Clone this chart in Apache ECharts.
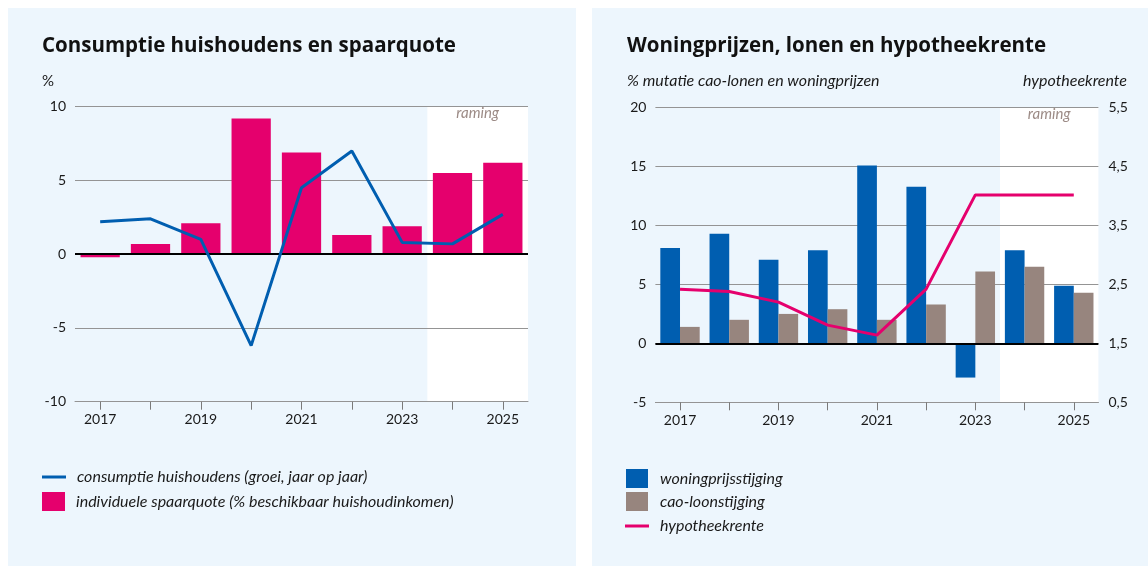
<!DOCTYPE html>
<html>
<head>
<meta charset="utf-8">
<script src="https://cdn.jsdelivr.net/npm/echarts@6/dist/echarts.min.js"></script>
<style>
  html, body { margin: 0; padding: 0; background: #fff; }
  .panel { position: absolute; background: #edf6fd; }
  #chart { position: absolute; left: 0; top: 0; width: 1148px; height: 568px; }
</style>
</head>
<body>
<div class="panel" style="left:8px;top:8px;width:568px;height:558px"></div>
<div class="panel" style="left:592px;top:8px;width:556px;height:558px"></div>
<div id="chart"></div>
<script>
// jaren op de x-as
const years = ['2017', '2018', '2019', '2020', '2021', '2022', '2023', '2024', '2025'];

// links: consumptie en spaarquote (%)
const spaarquote = [-0.2, 0.7, 2.1, 9.2, 6.9, 1.3, 1.9, 5.5, 6.2];
const consumptie = [2.2, 2.4, 1.0, -6.2, 4.5, 7.0, 0.8, 0.7, 2.7];

// rechts: woningprijzen, cao-lonen (% mutatie) en hypotheekrente
const woningprijs = [8.1, 9.3, 7.1, 7.9, 15.1, 13.3, -2.9, 7.9, 4.9];
const caoLoon = [1.4, 2.0, 2.5, 2.9, 2.0, 3.3, 6.1, 6.5, 4.3];
const hypotheekrente = [2.42, 2.38, 2.2, 1.81, 1.64, 2.42, 4.02, 4.02, 4.02];

// ramingsjaren: index 6.5 t/m 8.5 op de verborgen waarde-as
const ramingVan = 6.5;
const ramingTot = 8.5;

const BLUE = '#005eb0';
const PINK = '#e5006d';
const TAUPE = '#97857e';
const GRID = '#949494';
const TXT = '#1a1a1a';
const italic = { fontFamily: 'Lato', fontStyle: 'italic', fontSize: 16, color: TXT };

const chart = echarts.init(document.getElementById('chart'));

function catAxis(gridIndex) {
  return {
    type: 'category', gridIndex, data: years, z: 3,
    axisLine: { show: true, onZero: false, lineStyle: { color: GRID, width: 1 } },
    axisTick: { show: true, alignWithLabel: true, interval: 0, length: 8, inside: false,
      lineStyle: { color: '#7a7a7a', width: 1 } },
    axisLabel: { interval: 1, margin: 11, fontFamily: 'Lato', fontSize: 14, color: TXT },
    splitLine: { show: false }
  };
}
function hiddenX(gridIndex) {
  return { type: 'value', gridIndex, min: -0.5, max: 8.5, show: false };
}
function ramingSeries(xAxisIndex, yAxisIndex) {
  return {
    type: 'line', xAxisIndex, yAxisIndex, data: [], silent: true, z: 0,
    markArea: {
      silent: true, z: 0,
      itemStyle: { color: '#ffffff' },
      label: { show: true, position: 'insideTop', distance: -1,
        fontFamily: 'Lato', fontStyle: 'italic', fontSize: 15, color: '#9c8b86' },
      data: [[{ name: 'raming', xAxis: ramingVan }, { xAxis: ramingTot }]]
    }
  };
}
const zeroLine = {
  silent: true, symbol: ['none', 'none'], label: { show: false },
  lineStyle: { color: '#000', width: 2, type: 'solid' },
  data: [{ yAxis: 0 }]
};
const titleFont = { fontFamily: 'Open Sans', fontWeight: 'bold', fontSize: 20.5, color: '#111' };

chart.setOption({
  animation: false,
  title: [
    { text: 'Consumptie huishoudens en spaarquote', left: 42, top: 36, padding: 0,
      textStyle: titleFont },
    { text: '%', left: 42, top: 74, padding: 0,
      textStyle: { fontFamily: 'Lato', fontWeight: 'normal', fontSize: 15, color: TXT } },
    { text: 'Woningprijzen, lonen en hypotheekrente', left: 627, top: 36, padding: 0,
      textStyle: titleFont },
    { text: '% mutatie cao-lonen en woningprijzen', left: 627, top: 73, padding: 0,
      textStyle: Object.assign({ fontWeight: 'normal' }, italic) },
    { text: 'hypotheekrente', right: 21, top: 73, padding: 0,
      textStyle: Object.assign({ fontWeight: 'normal' }, italic) }
  ],
  legend: [
    { left: 42, top: 469, padding: 0, orient: 'vertical', itemWidth: 24, itemHeight: 3,
      icon: 'rect', selectedMode: false,
      textStyle: Object.assign({ padding: [0, 0, 0, 6] }, italic),
      data: ['consumptie huishoudens (groei, jaar op jaar)'] },
    { left: 42, top: 492, padding: 0, orient: 'vertical', itemWidth: 23, itemHeight: 19,
      icon: 'rect', selectedMode: false,
      textStyle: Object.assign({ padding: [0, 0, 0, 6] }, italic),
      data: ['individuele spaarquote (% beschikbaar huishoudinkomen)'] },
    { left: 626, top: 469, padding: 0, orient: 'vertical', itemWidth: 22, itemHeight: 19, itemGap: 4,
      icon: 'rect', selectedMode: false,
      textStyle: Object.assign({ padding: [0, 0, 0, 7] }, italic),
      data: ['woningprijsstijging', 'cao-loonstijging'] },
    { left: 625, top: 518, padding: 0, orient: 'vertical', itemWidth: 24, itemHeight: 3,
      icon: 'rect', selectedMode: false,
      textStyle: Object.assign({ padding: [0, 0, 0, 6] }, italic),
      data: ['hypotheekrente'] }
  ],
  grid: [
    { left: 75, right: 620, top: 106.7, bottom: 568 - 401.7 },
    { left: 655.4, right: 49.6, top: 107.7, bottom: 568 - 402.3 }
  ],
  xAxis: [catAxis(0), hiddenX(0), catAxis(1), hiddenX(1)],
  yAxis: [
    { type: 'value', gridIndex: 0, min: -10, max: 10, interval: 5, z: 2,
      axisLine: { show: false }, axisTick: { show: false },
      axisLabel: { margin: 9, fontFamily: 'Lato', fontSize: 14, color: TXT },
      splitLine: { lineStyle: { color: GRID, width: 1 } } },
    { type: 'value', gridIndex: 1, min: -5, max: 20, interval: 5, z: 2,
      axisLine: { show: false }, axisTick: { show: false },
      axisLabel: { margin: 9, fontFamily: 'Lato', fontSize: 14, color: TXT },
      splitLine: { lineStyle: { color: GRID, width: 1 } } },
    { type: 'value', gridIndex: 1, position: 'right', min: 0.5, max: 5.5, interval: 1,
      axisLine: { show: false }, axisTick: { show: false },
      axisLabel: { margin: 10, fontFamily: 'Lato', fontSize: 14, color: TXT,
        formatter: v => v.toFixed(1).replace('.', ',') },
      splitLine: { show: false } }
  ],
  series: [
    ramingSeries(1, 0),
    { name: 'individuele spaarquote (% beschikbaar huishoudinkomen)', type: 'bar',
      xAxisIndex: 0, yAxisIndex: 0, data: spaarquote, barWidth: '78%', z: 3,
      itemStyle: { color: PINK }, markLine: zeroLine },
    { name: 'consumptie huishoudens (groei, jaar op jaar)', type: 'line',
      xAxisIndex: 0, yAxisIndex: 0, data: consumptie, symbol: 'none', z: 6,
      itemStyle: { color: BLUE }, lineStyle: { color: BLUE, width: 3 } },

    ramingSeries(3, 1),
    { name: 'woningprijsstijging', type: 'bar', xAxisIndex: 2, yAxisIndex: 1,
      data: woningprijs, barGap: 0, barCategoryGap: '20%', z: 3,
      itemStyle: { color: BLUE }, markLine: zeroLine },
    { name: 'cao-loonstijging', type: 'bar', xAxisIndex: 2, yAxisIndex: 1,
      data: caoLoon, barGap: 0, barCategoryGap: '20%', z: 3,
      itemStyle: { color: TAUPE } },
    { name: 'hypotheekrente', type: 'line', xAxisIndex: 2, yAxisIndex: 2,
      data: hypotheekrente, symbol: 'none', z: 6,
      itemStyle: { color: PINK }, lineStyle: { color: PINK, width: 3 } }
  ]
});
</script>
</body>
</html>
